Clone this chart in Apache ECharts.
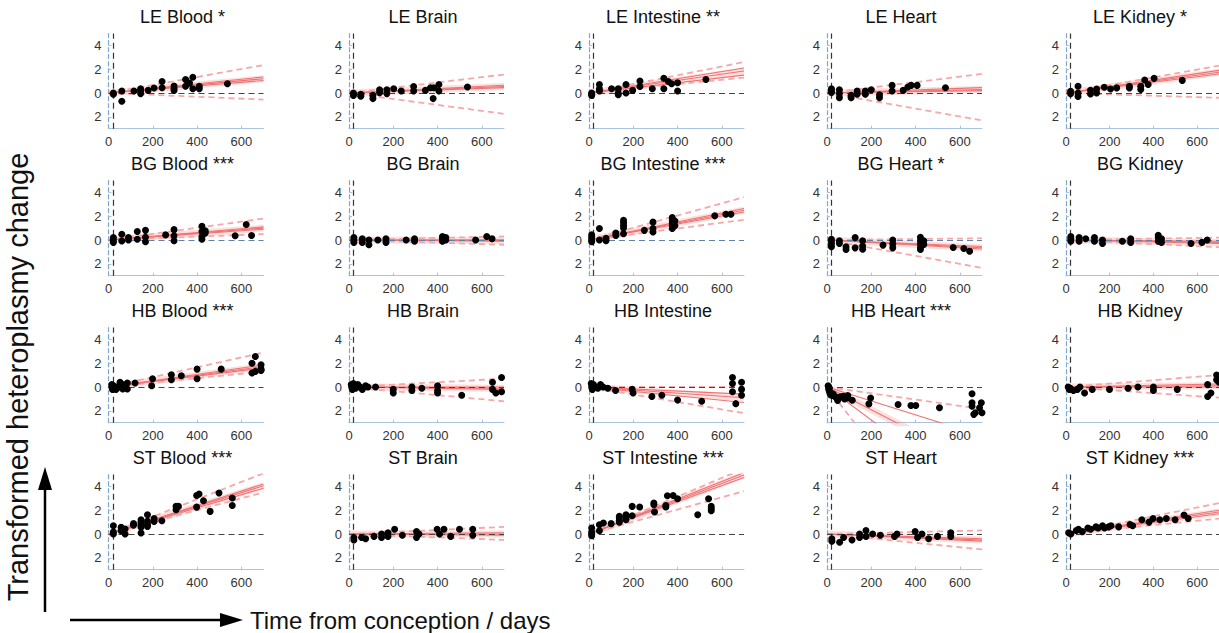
<!DOCTYPE html>
<html><head><meta charset="utf-8">
<script src="https://cdn.jsdelivr.net/npm/echarts@6/dist/echarts.min.js"></script>
<style>html,body{margin:0;padding:0;background:#fff}#c{width:1219px;height:633px}</style>
</head><body><div id="c"></div>
<script>
// ---------- data ----------
const titles = [
  'LE Blood *','LE Brain','LE Intestine **','LE Heart','LE Kidney *',
  'BG Blood ***','BG Brain','BG Intestine ***','BG Heart *','BG Kidney',
  'HB Blood ***','HB Brain','HB Intestine','HB Heart ***','HB Kidney',
  'ST Blood ***','ST Brain','ST Intestine ***','ST Heart','ST Kidney ***'
];
const xTicks = [0, 200, 400, 600];
const yTicks = [-2, 0, 2, 4];
const birthDay = 21;

const leBlood = [[22,0],[22,-0.1],[60,0.17],[60,-0.7],[115,0.17],[145,0.36],[145,0.17],[145,-0.05],[179,0.22],[206,0.42],[242,0.97],[242,0.44],[296,0.58],[296,0.36],[296,0.22],[348,1.14],[348,0.56],[366,0.83],[381,1.33],[381,0.36],[410,0.56],[410,0.36],[537,0.78]];
const leBrain = [[20,0],[20,-0.2],[20,-0.1],[53,-0.1],[53,-0.28],[108,-0.2],[108,-0.47],[138,0.28],[138,0.03],[171,0.28],[171,-0.05],[202,0.36],[236,0.17],[292,0.55],[292,0.17],[345,0.22],[368,0.44],[383,0.44],[380,-0.47],[406,0.72],[406,0.17],[535,0.5]];
const leIntestine = [[12,0],[12,-0.2],[12,-0.1],[47,0.72],[47,0.36],[47,0.17],[102,0.36],[132,0.36],[132,0],[132,-0.14],[167,0.72],[167,0],[197,0.22],[230,1.0],[230,0.55],[286,0.36],[338,1.24],[338,0.36],[358,0.97],[373,0.77],[400,0.86],[400,0.17],[528,1.13]];
const leHeart = [[20,0.36],[20,0.17],[20,0.05],[56,0.28],[56,-0.05],[56,-0.39],[109,-0.2],[109,-0.39],[136,0.17],[136,-0.1],[173,0.17],[173,-0.1],[200,0.28],[237,-0.14],[237,-0.39],[294,0.64],[294,0.17],[344,0.22],[365,0.5],[380,0.64],[407,0.64],[535,0.44]];
const leKidney = [[21,0.14],[21,-0.06],[55,0.57],[55,0],[55,-0.29],[112,0.23],[112,-0.09],[140,0.34],[140,0],[175,0.49],[204,0.34],[232,0.43],[290,0.57],[290,0.43],[342,0.57],[342,0.29],[360,1.09],[376,0.71],[403,1.23],[532,1.06]];

const bgBlood = [[22,0.2],[22,0],[22,-0.2],[60,0.49],[60,-0.09],[90,0.2],[90,0],[130,0.72],[130,0.06],[167,0.81],[167,0.23],[167,-0.14],[258,0.43],[296,0.87],[296,0.35],[296,-0.06],[422,1.16],[422,0.72],[422,0.29],[422,0.06],[437,0.78],[437,0.58],[572,0.35],[622,1.3],[646,0.38]];
const bgBrain = [[22,0.2],[22,0],[22,-0.2],[60,0.1],[60,-0.2],[90,0],[90,-0.4],[130,0],[167,0.1],[167,-0.2],[258,0],[296,0.1],[296,-0.1],[422,0.3],[422,0.1],[422,0],[422,-0.1],[437,0.2],[437,0],[572,0],[622,0.3],[646,0.1]];
const bgIntestine = [[12,0.43],[12,0.2],[12,0],[12,-0.14],[47,0.96],[47,0],[77,0.14],[77,-0.06],[121,0.58],[121,0.38],[156,1.65],[156,1.45],[156,1.22],[156,1.01],[156,0.52],[250,0.81],[289,1.5],[289,0.96],[289,0.67],[376,1.88],[376,1.65],[376,1.39],[376,1.16],[376,0.96],[388,1.6],[388,1.2],[568,2.03],[618,2.17],[641,2.17]];
const bgHeart = [[20,0.06],[20,-0.14],[20,-0.37],[20,-0.57],[56,-0.06],[56,-0.29],[86,-0.57],[86,-0.8],[127,0.2],[127,-0.66],[161,-0.06],[161,-0.51],[161,-0.77],[253,-0.43],[297,0],[297,-0.34],[297,-0.66],[422,0.23],[422,-0.06],[422,-0.34],[422,-0.63],[422,-0.8],[437,-0.06],[437,-0.37],[570,-0.63],[618,-0.71],[644,-0.94]];
const bgKidney = [[22,0.3],[22,0.1],[22,-0.1],[60,0.2],[60,-0.1],[90,0.1],[130,0.2],[130,-0.1],[167,0],[167,-0.3],[258,-0.1],[296,0.1],[296,-0.2],[422,0.4],[422,0.2],[422,-0.1],[437,0.1],[437,-0.2],[572,-0.3],[622,-0.2],[646,0]];

const hbBlood = [[15,0.2],[15,0],[18,-0.2],[22,0.1],[34,0],[34,-0.2],[52,0.39],[52,0],[64,0.2],[64,-0.17],[85,0.33],[85,-0.17],[120,0.33],[195,0.11],[199,0.69],[284,1.03],[284,0.61],[329,0.94],[400,1.5],[400,0.69],[509,1.5],[648,2.0],[648,1.17],[663,2.56],[663,1.31],[689,1.86],[689,1.5],[689,1.39]];
const hbBrain = [[10,0.2],[12,0],[15,-0.2],[20,0.3],[25,0.1],[30,-0.1],[40,0.2],[50,0],[60,-0.2],[75,0.1],[85,0],[120,0],[200,-0.2],[200,-0.5],[284,0],[284,-0.3],[329,-0.1],[400,0.1],[400,-0.3],[400,-0.5],[509,-0.7],[648,0.4],[648,-0.2],[663,-0.5],[689,0.8],[689,-0.4]];
const hbIntestine = [[10,0.3],[12,0],[15,-0.2],[20,0.2],[30,0],[40,-0.1],[52,0.2],[64,0],[85,-0.1],[120,-0.3],[195,-0.2],[199,-0.5],[284,-0.8],[329,-0.7],[400,-1.1],[509,-1.2],[648,0.8],[648,0.3],[648,-0.4],[663,-1.4],[689,0.4],[689,-0.2],[689,-0.7]];
const hbHeart = [[5,0.1],[8,0],[8,-0.22],[10,-0.1],[12,-0.44],[15,-0.64],[18,-0.5],[24,-0.72],[28,-0.6],[38,-0.83],[48,-0.92],[48,-1.14],[61,-0.83],[73,-0.78],[79,-1.0],[94,-0.72],[94,-0.92],[114,-1.11],[189,-1.42],[197,-0.92],[321,-1.47],[379,-1.56],[401,-1.56],[508,-1.75],[655,-0.56],[655,-1.33],[655,-1.61],[663,-2.3],[670,-2.17],[689,-1.75],[697,-1.33],[700,-2.17]];
const hbKidney = [[10,0],[15,-0.2],[20,-0.1],[34,-0.3],[52,-0.2],[64,0],[85,-0.5],[120,-0.2],[199,-0.2],[284,-0.1],[329,0],[400,-0.3],[400,0],[509,-0.2],[648,0.2],[648,-0.8],[663,-0.5],[689,0.6],[689,1.0],[700,0.4]];

const stBlood = [[22,0.7],[22,0.17],[22,0],[57,0.56],[57,0.28],[75,0.42],[75,0],[113,0.87],[113,0.73],[147,1.2],[147,0.98],[147,0.78],[147,0.56],[147,0.08],[176,1.62],[176,1.06],[176,0.78],[176,0.64],[206,1.29],[206,1.06],[241,1.12],[305,2.32],[305,2.04],[316,2.32],[398,3.24],[398,2.26],[409,3.36],[429,2.8],[459,1.9],[499,3.44],[559,3.02],[559,2.4]];
const stBrain = [[22,-0.3],[22,-0.5],[57,-0.3],[75,-0.4],[113,-0.2],[147,0],[147,-0.3],[176,0.1],[176,-0.2],[206,0.4],[241,-0.1],[305,0.2],[305,-0.3],[316,0],[398,0.4],[409,0],[429,0.4],[459,-0.2],[499,0.4],[559,0.4],[559,-0.1]];
const stIntestine = [[12,0.5],[12,0.17],[12,0],[12,-0.14],[47,0.78],[47,0.28],[65,0.92],[100,0.87],[137,1.48],[137,1.34],[137,1.12],[137,0.98],[167,1.62],[167,1.48],[167,1.2],[195,2.32],[195,1.54],[229,2.27],[293,2.6],[293,2.46],[296,1.85],[347,2.4],[347,2.27],[354,3.22],[380,3.24],[400,2.96],[491,1.62],[540,2.96],[552,2.32],[552,2.13],[552,1.96]];
const stHeart = [[22,-0.4],[22,-0.6],[57,-0.7],[75,-0.3],[113,-0.5],[147,0],[147,-0.3],[176,0.3],[176,-0.2],[206,0],[241,-0.1],[305,-0.2],[316,0],[398,0.2],[409,-0.3],[429,0],[459,-0.4],[499,-0.2],[559,0.1],[559,-0.2]];
const stKidney = [[12,0.1],[22,0],[47,0.3],[57,0.4],[75,0.2],[100,0.5],[113,0.4],[137,0.6],[147,0.5],[167,0.7],[176,0.5],[195,0.6],[206,0.7],[241,0.6],[293,0.8],[305,0.7],[347,1.2],[380,1.0],[398,1.3],[429,1.2],[459,1.3],[499,1.2],[540,1.6],[559,1.3]];

const points = [leBlood, leBrain, leIntestine, leHeart, leKidney,
  bgBlood, bgBrain, bgIntestine, bgHeart, bgKidney,
  hbBlood, hbBrain, hbIntestine, hbHeart, hbKidney,
  stBlood, stBrain, stIntestine, stHeart, stKidney];

// value at day 700 of fitted lines through the origin
const fitEnds = [
  [1.05,1.2,1.35],[0.45,0.55,0.65],[1.5,1.85,2.1],[0.2,0.3,0.45],[1.6,1.75,1.9],
  [0.9,1.0,1.1],[-0.1,-0.05,0.02],[2.35,2.5,2.65],[-0.55,-0.65,-0.75],[-0.3,-0.2,-0.1],
  [1.6,1.72,1.85],[-0.2,-0.1,0],[-0.6,-0.9,-1.3],[-4.1,-6.7,-9.7],[0,0.1,0.25],
  [3.85,4.05,4.2],[-0.1,0,0.1],[4.75,4.95,5.15],[-0.4,-0.5,-0.6],[1.7,1.85,2.0]
];
// value at day 700 of the upper / lower interval lines
const bandEnds = [
  [2.35,-0.55],[1.55,-1.75],[2.6,1.3],[1.6,-2.3],[2.3,-0.4],
  [1.8,0.5],[0.3,-0.4],[3.6,1.7],[0.14,-2.34],[0.2,-0.6],
  [2.9,1.3],[0.7,-1.2],[0,-2.2],[-1.85,-17],[1.0,-0.9],
  [5.1,3.5],[0.6,-0.5],[5.5,3.6],[0.3,-1.3],[2.6,1.3]
];

// ---------- layout ----------
const colLeft = [108.5, 349, 589, 827, 1066];
const rowTop = [33.5, 180.5, 327.5, 474.5];
const gridW = 155, gridH = 95.2;
const FONT = '"Liberation Sans", Arial, Helvetica, sans-serif';
const axisBlue = '#a9c4dc';

const grids = [], xAxes = [], yAxes = [], series = [], graphics = [];

points.forEach((pts, i) => {
  const r = Math.floor(i / 5), c = i % 5;
  grids.push({left: colLeft[c], top: rowTop[r], width: gridW, height: gridH});
  xAxes.push({
    gridIndex: i, type: 'value', min: 0, max: 700,
    axisLine: {show: true, onZero: false, lineStyle: {color: axisBlue, width: 1}},
    axisTick: {show: true, inside: true, length: 3, customValues: [200, 400, 600], lineStyle: {color: axisBlue}},
    axisLabel: {customValues: xTicks, color: '#333', fontSize: 13, margin: 6, fontFamily: FONT},
    splitLine: {show: false}
  });
  yAxes.push({
    gridIndex: i, type: 'value', min: -3, max: 5,
    axisLine: {show: true, onZero: false, lineStyle: {color: '#7fa6cc', width: 1.2, type: [4, 3]}},
    axisTick: {show: true, inside: true, length: 3, customValues: yTicks, lineStyle: {color: axisBlue}},
    axisLabel: {customValues: yTicks, color: '#333', fontSize: 13, margin: 7, fontFamily: FONT,
      formatter: v => String(Math.abs(v))},
    splitLine: {show: false}
  });
  const lineOf = (end) => [[0, 0], [700, end]];
  // soft halo around the central fit
  series.push({type: 'line', xAxisIndex: i, yAxisIndex: i, data: lineOf(fitEnds[i][1]), showSymbol: false, silent: true,
    lineStyle: {color: 'rgba(245,140,140,0.28)', width: 7}, z: 1});
  bandEnds[i].forEach(e => series.push({type: 'line', xAxisIndex: i, yAxisIndex: i, data: lineOf(e), showSymbol: false, silent: true,
    lineStyle: {color: '#f6a8a8', width: 1.8, type: [6, 4]}, z: 2}));
  fitEnds[i].forEach(e => series.push({type: 'line', xAxisIndex: i, yAxisIndex: i, data: lineOf(e), showSymbol: false, silent: true,
    lineStyle: {color: '#f07272', width: 1.1}, z: 3}));
  series.push({
    type: 'scatter', xAxisIndex: i, yAxisIndex: i, data: pts, symbolSize: 7,
    itemStyle: {color: '#000', opacity: 1}, z: 5,
    markLine: {silent: true, symbol: 'none', label: {show: false}, animation: false,
      data: [
        {yAxis: 0, lineStyle: {color: r === 1 ? '#5d84a8' : '#444', type: [6, 4], width: 1.2}},
        {xAxis: birthDay, lineStyle: {color: '#333', type: [6, 4], width: 1.2}}
      ]}
  });
  graphics.push({type: 'text', x: colLeft[c] + 74, y: rowTop[r] - 17, silent: true,
    style: {text: titles[i], fill: '#111', font: '18px ' + FONT, textAlign: 'center', textVerticalAlign: 'middle'}});
});

// global axis captions and arrows
graphics.push({type: 'text', x: 18, y: 377, rotation: Math.PI / 2, silent: true,
  style: {text: 'Transformed heteroplasmy change', fill: '#111', font: '29px ' + FONT, textAlign: 'center', textVerticalAlign: 'middle'}});
graphics.push({type: 'text', x: 250, y: 620, silent: true,
  style: {text: 'Time from conception / days', fill: '#111', font: '24px ' + FONT, textAlign: 'left', textVerticalAlign: 'middle'}});
graphics.push({type: 'line', shape: {x1: 45, y1: 612, x2: 45, y2: 485}, style: {stroke: '#000', lineWidth: 2.5}});
graphics.push({type: 'polygon', shape: {points: [[45, 467], [38, 490], [52, 490]]}, style: {fill: '#000'}});
graphics.push({type: 'line', shape: {x1: 70, y1: 620, x2: 225, y2: 620}, style: {stroke: '#000', lineWidth: 2.5}});
graphics.push({type: 'polygon', shape: {points: [[243, 620], [220, 613], [220, 627]]}, style: {fill: '#000'}});

const chart = echarts.init(document.getElementById('c'), null, {renderer: 'svg'});
chart.setOption({
  animation: false,
  backgroundColor: '#fff',
  grid: grids, xAxis: xAxes, yAxis: yAxes, series: series, graphic: graphics
});
</script></body></html>
